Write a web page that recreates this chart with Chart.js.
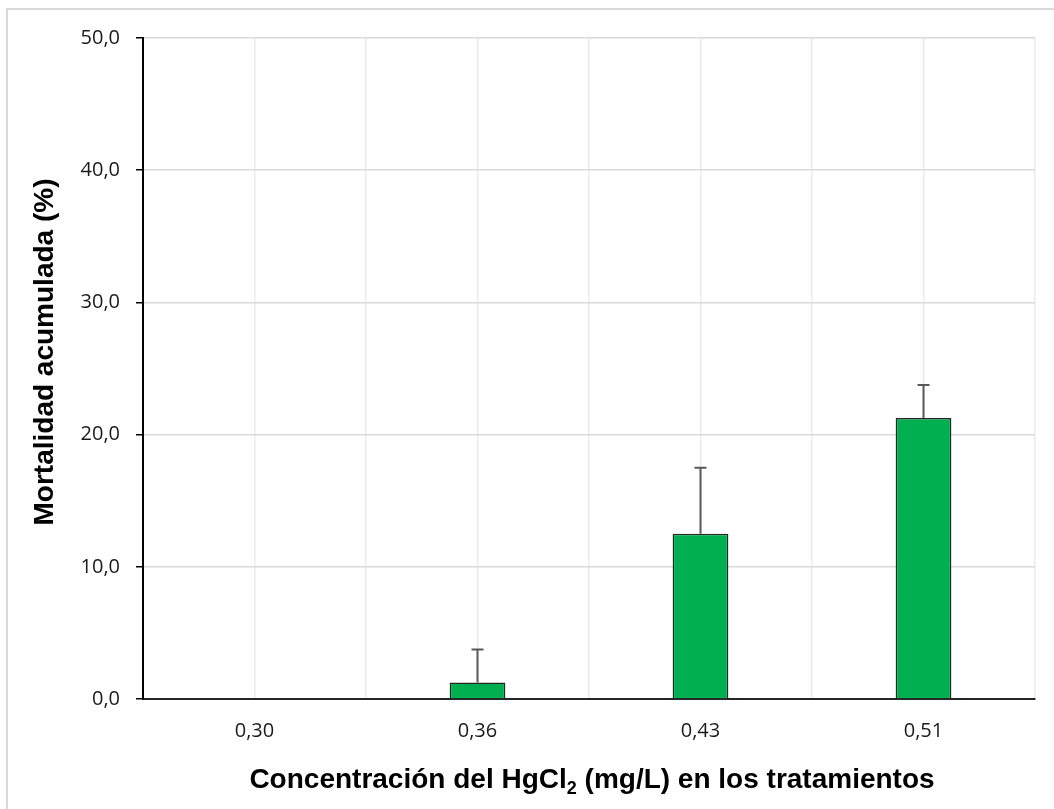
<!DOCTYPE html>
<html>
<head>
<meta charset="utf-8">
<script src="https://cdn.jsdelivr.net/npm/chart.js@4.4.1/dist/chart.umd.min.js"></script>
<style>
  html, body { margin: 0; padding: 0; background: #ffffff; overflow: hidden; }
  #wrap { position: relative; width: 1054px; height: 809px; }
  #frame { position: absolute; left: 6px; top: 8px; width: 1060px; height: 820px;
           border: 2px solid #d9d9d9; box-sizing: border-box; pointer-events: none; }
  canvas { position: absolute; left: 0; top: 0; }
</style>
</head>
<body>
<div id="wrap">
  <div id="frame"></div>
  <canvas id="c" width="1054" height="809"></canvas>
</div>
<script>
// ---- data ----
const categories = ["0,30", "0,36", "0,43", "0,51"];
const mortality = [0, 1.25, 12.5, 21.25];
const errorPlus = [0, 2.5, 5, 2.5];
const yTicks = [0, 10, 20, 30, 40, 50];
const xTitleMain = "Concentración del HgCl";
const xTitleSub = "2";
const xTitleRest = " (mg/L) en los tratamientos";
const yTitle = "Mortalidad acumulada (%)";

const errorBarPlugin = {
  id: 'errorBars',
  afterDatasetsDraw(chart) {
    const ctx = chart.ctx;
    const meta = chart.getDatasetMeta(0);
    const yScale = chart.scales.y;
    ctx.save();
    ctx.strokeStyle = '#595959';
    ctx.lineWidth = 2;
    meta.data.forEach((bar, i) => {
      const e = errorPlus[i];
      if (!e) return;
      const x = bar.x;
      const y0 = yScale.getPixelForValue(mortality[i]);
      const y1 = yScale.getPixelForValue(mortality[i] + e);
      ctx.beginPath();
      ctx.moveTo(x, y0);
      ctx.lineTo(x, y1);
      ctx.moveTo(x - 6, y1);
      ctx.lineTo(x + 6, y1);
      ctx.stroke();
    });
    ctx.restore();
  }
};

const titlePlugin = {
  id: 'axisTitles',
  afterDraw(chart) {
    const ctx = chart.ctx;
    const area = chart.chartArea;
    ctx.save();
    ctx.fillStyle = '#000000';
    ctx.textBaseline = 'alphabetic';
    const big = 'bold 28px "Liberation Sans", Arial, sans-serif';
    const small = 'bold 18px "Liberation Sans", Arial, sans-serif';
    ctx.font = big;
    const w1 = ctx.measureText(xTitleMain).width;
    const w3 = ctx.measureText(xTitleRest).width;
    ctx.font = small;
    const w2 = ctx.measureText(xTitleSub).width;
    const total = w1 + w2 + w3;
    const cx = (area.left + area.right) / 2 + 3;
    let x = cx - total / 2;
    const base = 788;
    ctx.textAlign = 'left';
    ctx.font = big;
    ctx.fillText(xTitleMain, x, base);
    x += w1;
    ctx.font = small;
    ctx.fillText(xTitleSub, x, base + 6);
    x += w2;
    ctx.font = big;
    ctx.fillText(xTitleRest, x, base);
    // y title
    ctx.translate(53, 352);
    ctx.rotate(-Math.PI / 2);
    ctx.textAlign = 'center';
    ctx.font = big;
    ctx.fillText(yTitle, 0, 0);
    ctx.restore();
  }
};

new Chart(document.getElementById('c'), {
  type: 'bar',
  data: {
    labels: categories,
    datasets: [{
      data: mortality,
      backgroundColor: '#00b050',
      borderColor: '#262626',
      borderWidth: 1.5,
      categoryPercentage: 1,
      barPercentage: 0.25
    }]
  },
  options: {
    responsive: false,
    animation: false,
    layout: { padding: { left: 0, top: 38, right: 19, bottom: 0 } },
    plugins: { legend: { display: false }, tooltip: { enabled: false }, title: { display: false } },
    scales: {
      x: {
        type: 'category',
        position: 'bottom',
        offset: true,
        grid: { offset: true, color: '#ececec', lineWidth: 1.5, drawTicks: false },
        border: { color: '#262626', width: 2 },
        ticks: { color: '#1a1a1a', font: { family: '"Open Sans", sans-serif', size: 20 }, padding: 20 },
        afterFit(s) { s.height = 110; }
      },
      x2: {
        type: 'category',
        position: 'top',
        offset: true,
        labels: categories,
        grid: { offset: false, color: '#ececec', lineWidth: 1.5, drawTicks: false },
        border: { display: false },
        ticks: { display: false },
        afterFit(s) { s.height = 0; }
      },
      y: {
        min: 0, max: 50,
        afterBuildTicks(s) { s.ticks = yTicks.map(v => ({ value: v })); },
        grid: { color: '#d9d9d9', lineWidth: 1.5, tickLength: 7, tickColor: '#000000' },
        border: { color: '#000000', width: 2 },
        ticks: {
          color: '#1a1a1a',
          font: { family: '"Open Sans", sans-serif', size: 20 },
          padding: 16,
          callback: v => v.toFixed(1).replace('.', ',')
        },
        afterFit(s) { s.width = 143; }
      }
    }
  },
  plugins: [errorBarPlugin, titlePlugin]
});
</script>
</body>
</html>
